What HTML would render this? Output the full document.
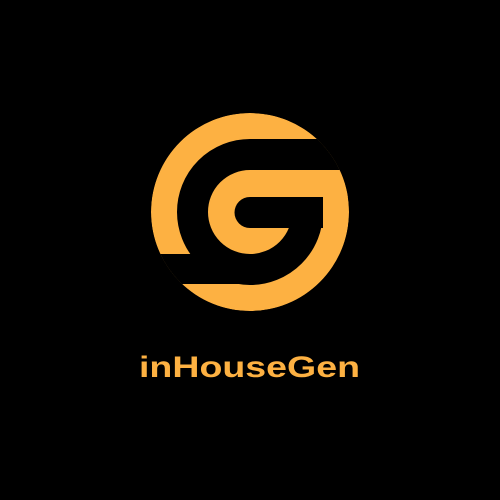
<!DOCTYPE html>
<html><head><meta charset="utf-8"><style>
html,body{margin:0;padding:0;background:#000;width:500px;height:500px;overflow:hidden}
</style></head><body>
<svg width="500" height="500" viewBox="0 0 500 500">
<defs><clipPath id="disc"><circle cx="250" cy="212" r="99"/></clipPath></defs>
<rect width="500" height="500" fill="#000"/>
<g clip-path="url(#disc)">
<circle cx="250" cy="212" r="99" fill="#fdb142"/>
<circle cx="250" cy="212" r="57.5" fill="none" stroke="#000" stroke-width="31"/>
<rect x="250" y="139" width="110" height="31" fill="#000"/>
<rect x="140" y="254" width="110" height="30" fill="#000"/>
<rect x="250" y="170" width="100" height="27" fill="#fdb142"/>
<circle cx="250" cy="212.5" r="15.5" fill="#000"/>
<rect x="250" y="197" width="73" height="31" fill="#000"/>
</g>
<text x="139" y="377" textLength="221" lengthAdjust="spacingAndGlyphs" font-family="Liberation Sans, sans-serif" font-weight="bold" font-size="30" fill="#fdb142">inHouseGen</text>
</svg>
</body></html>
